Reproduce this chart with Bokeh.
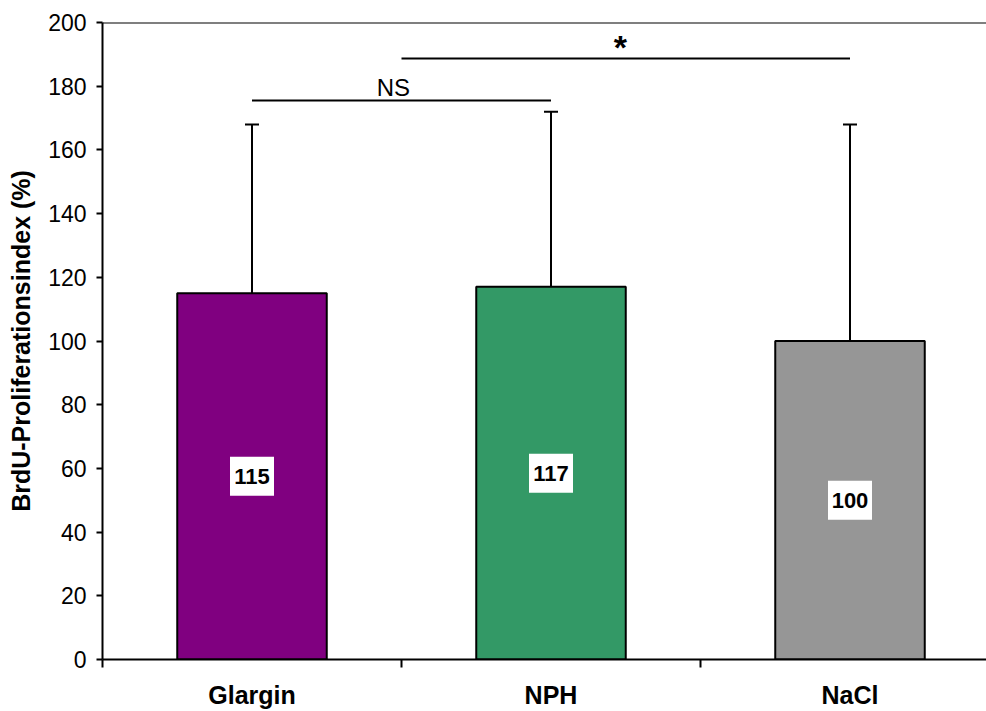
from bokeh.plotting import figure
from bokeh.models import (ColumnDataSource, Range1d, FixedTicker, Whisker, TeeHead, Span)
from bokeh.core.properties import value
from bokeh.embed import file_html
from bokeh.resources import INLINE

categories = ["Glargin", "NPH", "NaCl"]
means = [115, 117, 100]
sds = [53, 55, 68]
colors = ["#800080", "#339966", "#969696"]
y_ticks = [0, 20, 40, 60, 80, 100, 120, 140, 160, 180, 200]

# significance brackets
brackets_x0 = [0.5, 1.0]
brackets_x1 = [1.5, 2.5]
brackets_y = [175.5, 188.7]
bracket_labels = ["NS", "*"]
bracket_label_x = [0.973, 1.732]
bracket_label_y = [179.5, 192.3]

FONT = "Liberation Sans"

xs = [i + 0.5 for i in range(len(categories))]
src = ColumnDataSource(dict(
    x=xs, top=means, upper=[m + s for m, s in zip(means, sds)],
    mid=[m / 2 for m in means], lab=[str(m) for m in means], color=colors))

p = figure(width=986, height=711, output_backend="svg", toolbar_location=None,
           x_range=Range1d(0, 884 / 299), y_range=Range1d(0, 200),
           min_border_left=102, min_border_right=0, min_border_top=22, min_border_bottom=51)
p.outline_line_color = None
p.grid.visible = False
p.background_fill_color = "white"

p.vbar(x="x", top="top", bottom=0, width=0.5, fill_color="color",
       line_color="black", line_width=2, source=src)

w = Whisker(source=src, base="x", upper="upper", lower="top", lower_head=None,
            upper_head=TeeHead(size=14, line_width=2, line_color="black"),
            line_width=2, line_color="black")
p.add_layout(w)

p.rect(x="x", y="mid", width=44, height=39, width_units="screen", height_units="screen",
       fill_color="white", line_color=None, source=src)
p.text(x="x", y="mid", text="lab", text_font=value(FONT), text_font_style="bold",
       text_font_size="22px", text_align="center", text_baseline="middle",
       text_color="black", source=src)

p.segment(x0=brackets_x0, x1=brackets_x1, y0=brackets_y, y1=brackets_y,
          line_color="black", line_width=2)
p.text(x=bracket_label_x[:1], y=bracket_label_y[:1], text=bracket_labels[:1],
       text_font=value(FONT), text_font_size="24px", text_align="center",
       text_baseline="middle", text_color="black")
p.text(x=bracket_label_x[1:], y=bracket_label_y[1:], text=bracket_labels[1:],
       text_font=value(FONT), text_font_style="bold", text_font_size="34px",
       text_align="center", text_baseline="middle", text_color="black")

p.add_layout(Span(location=200, dimension="width", line_color="black", line_width=2))

# y axis
ya = p.yaxis[0]
ya.ticker = FixedTicker(ticks=y_ticks)
ya.minor_tick_line_color = None
ya.major_tick_in = 0
ya.major_tick_out = 6
ya.major_tick_line_width = 2
ya.axis_line_width = 2
ya.major_label_standoff = 10
ya.major_label_text_font = FONT
ya.major_label_text_font_size = "23px"
ya.major_label_text_color = "black"
ya.axis_label = "BrdU-Proliferationsindex (%)"
ya.axis_label_text_font = FONT
ya.axis_label_text_font_style = "bold"
ya.axis_label_text_font_size = "25px"
ya.axis_label_text_color = "black"
ya.axis_label_standoff = 10

# x axis
xa = p.xaxis[0]
xa.ticker = FixedTicker(ticks=xs, minor_ticks=[0, 1, 2, 3])
xa.major_label_overrides = {x: c for x, c in zip(xs, categories)}
xa.major_tick_in = 0
xa.major_tick_out = 0
xa.minor_tick_in = 0
xa.minor_tick_out = 8
xa.minor_tick_line_width = 2
xa.axis_line_width = 2
xa.major_label_standoff = 13
xa.major_label_text_font = FONT
xa.major_label_text_font_style = "bold"
xa.major_label_text_font_size = "25px"
xa.major_label_text_color = "black"

open("out.html", "w").write(file_html(p, INLINE))
